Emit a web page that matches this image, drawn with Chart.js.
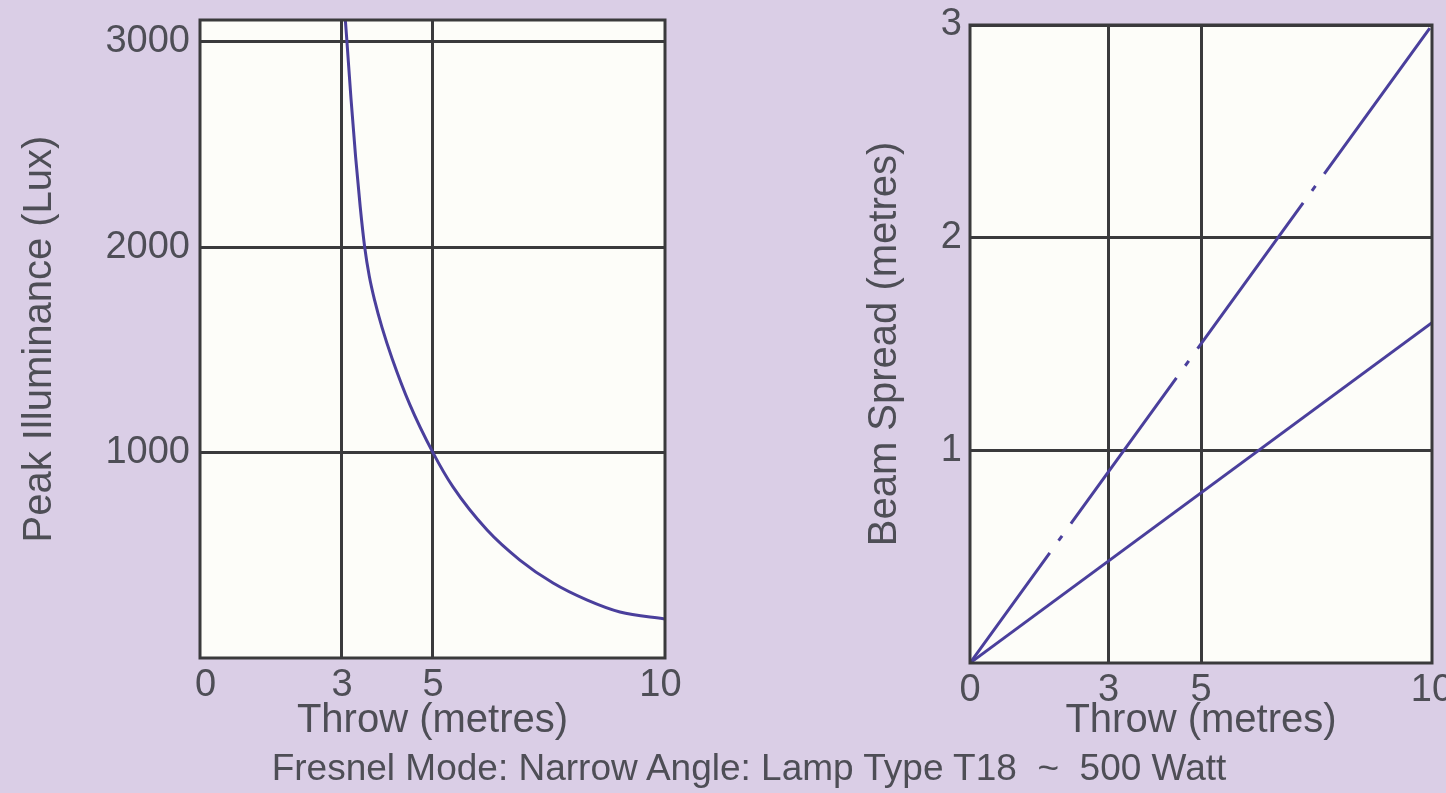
<!DOCTYPE html>
<html>
<head>
<meta charset="utf-8">
<script src="https://cdn.jsdelivr.net/npm/chart.js@4.4.1/dist/chart.umd.min.js"></script>
<style>
  html, body { margin: 0; padding: 0; width: 1446px; height: 793px; overflow: hidden; background: #dacee6; }
  #left { position: absolute; left: 0; top: 0; width: 700px; height: 793px; }
  #right { position: absolute; left: 800px; top: 0; width: 646px; height: 793px; }
  #caption { position: absolute; left: 0; width: 1498px; top: 749px; line-height: 38px; text-align: center;
             font-family: "Liberation Sans", Arial, sans-serif; font-size: 37px; color: #4e4e56; white-space: pre; }
</style>
</head>
<body>
<canvas id="left" width="700" height="793"></canvas>
<canvas id="right" width="646" height="793"></canvas>
<div id="caption">Fresnel Mode: Narrow Angle: Lamp Type T18  ~  500 Watt</div>
<script>
// valeurs
const throwLux = [3.06, 3.11, 3.2, 3.3, 3.4, 3.5, 3.6, 3.72, 3.88, 4.1, 4.49, 5.0, 5.44, 6.19, 6.91, 7.64, 8.38, 9.11, 10.1];
const peakLux = [3150, 3000, 2720, 2440, 2200, 2000, 1860, 1740, 1610, 1460, 1235, 1000, 833, 623, 477, 365, 283, 224, 190];

const throwSpread = [0, 10];
const spreadWide = [0, 3];     // trait-point
const spreadNarrow = [0, 1.6]; // trait plein

const throwTicks = [0, 3, 5, 10];
const throwGrid = [3, 5];
const luxTicks = [1000, 2000, 3000];
const spreadTicks = [1, 2, 3];

const textColor = "#4e4e56";
const gridColor = "#3a3a3c";
const curveColor = "#4a3f9c";
const titleFont = { size: 40 };

Chart.defaults.font.family = "'Liberation Sans', Arial, sans-serif";
Chart.defaults.font.size = 38;
Chart.defaults.color = textColor;

// fond blanc + cadre autour de la zone du graphique
const framePlugin = {
    id: "frame",
    beforeDraw(chart) {
        const a = chart.chartArea, ctx = chart.ctx;
        ctx.save();
        ctx.fillStyle = "#fdfdf9";
        ctx.fillRect(a.left, a.top, a.right - a.left, a.bottom - a.top);
        ctx.restore();
    },
    afterDatasetsDraw(chart) {
        const a = chart.chartArea, ctx = chart.ctx;
        ctx.save();
        ctx.strokeStyle = gridColor;
        ctx.lineWidth = 3;
        ctx.strokeRect(a.left, a.top, a.right - a.left, a.bottom - a.top);
        ctx.restore();
    }
};

function points(xs, ys) {
    return xs.map((x, i) => ({ x: x, y: ys[i] }));
}

function xAxis(min, max, height) {
    return {
        type: "linear",
        min: min,
        max: max,
        afterBuildTicks: s => { s.ticks = throwTicks.map(v => ({ value: v })); },
        afterFit: s => { s.height = height; s.paddingLeft = 0; s.paddingRight = 0; },
        grid: {
            drawTicks: false,
            lineWidth: 3,
            color: c => (c.tick && throwGrid.includes(c.tick.value)) ? gridColor : "transparent"
        },
        border: { display: false },
        ticks: { padding: 5, callback: v => String(v) },
        title: { display: true, text: "Throw (metres)", padding: 4, font: titleFont }
    };
}

function yAxis(max, ticks, width, label, pad) {
    return {
        type: "linear",
        min: 0,
        max: max,
        afterBuildTicks: s => { s.ticks = ticks.map(v => ({ value: v })); },
        afterFit: s => { s.width = width; s.paddingTop = 0; s.paddingBottom = 0; },
        grid: { drawTicks: false, lineWidth: 3, color: gridColor },
        border: { display: false },
        ticks: { padding: pad, callback: v => String(v) },
        title: { display: true, text: label, padding: 4, font: titleFont }
    };
}

new Chart(document.getElementById("left"), {
    type: "line",
    data: {
        datasets: [{
            data: points(throwLux, peakLux),
            borderColor: curveColor,
            borderWidth: 3,
            pointRadius: 0,
            cubicInterpolationMode: "monotone",
            fill: false
        }]
    },
    options: {
        responsive: false,
        animation: false,
        layout: { padding: { left: 12, top: 20, right: 35, bottom: 44 } },
        plugins: { legend: { display: false }, tooltip: { enabled: false } },
        scales: {
            x: xAxis(-0.12, 10.1, 91),
            y: yAxis(3107, luxTicks, 188, "Peak Illuminance (Lux)", 10)
        }
    },
    plugins: [framePlugin]
});

new Chart(document.getElementById("right"), {
    type: "line",
    data: {
        datasets: [{
            data: points(throwSpread, spreadWide),
            borderColor: curveColor,
            borderWidth: 3,
            borderDash: [180, 15, 6, 15],
            borderDashOffset: 44,
            borderCapStyle: "butt",
            pointRadius: 0,
            fill: false
        }, {
            data: points(throwSpread, spreadNarrow),
            borderColor: curveColor,
            borderWidth: 3,
            pointRadius: 0,
            fill: false
        }]
    },
    options: {
        responsive: false,
        animation: false,
        layout: { padding: { left: 57, top: 25, right: 14, bottom: 44 } },
        plugins: { legend: { display: false }, tooltip: { enabled: false } },
        scales: {
            x: xAxis(0, 10, 86),
            y: yAxis(3, spreadTicks, 113, "Beam Spread (metres)", 8)
        }
    },
    plugins: [framePlugin]
});
</script>
</body>
</html>
